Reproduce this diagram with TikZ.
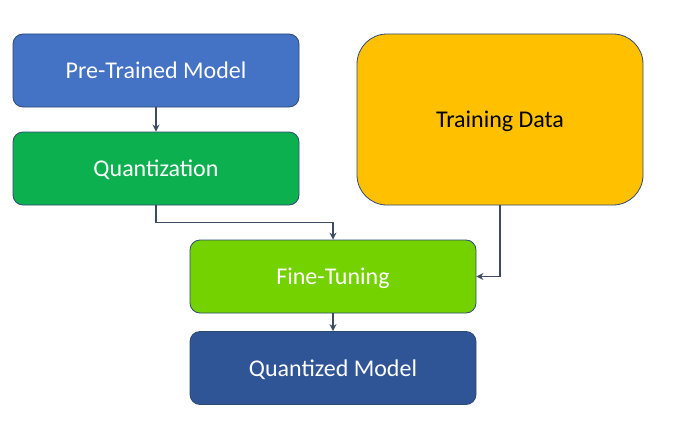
\documentclass[tikz,border=0pt]{standalone}
\usepackage{fontspec}
\setmainfont{Carlito}
\usetikzlibrary{arrows.meta}
\definecolor{ptblue}{HTML}{4472C4}
\definecolor{qgreen}{HTML}{0CB04F}
\definecolor{tdyellow}{HTML}{FFC000}
\definecolor{ftgreen}{HTML}{74D200}
\definecolor{qmblue}{HTML}{2F5597}
\definecolor{edge}{HTML}{2F4A75}
\definecolor{link}{HTML}{3E4C63}
\begin{document}
\begin{tikzpicture}[x=1pt,y=-1pt,
  box/.style={rectangle,rounded corners=10pt,draw=edge,line width=0.8pt,minimum width=286pt,minimum height=73pt,text depth=0pt,text=white,font=\fontsize{24}{28}\selectfont},
  link/.style={draw=link,line width=1.8pt,-{Stealth[length=7pt,width=7pt]}}]
\useasboundingbox (0,0) rectangle (700,425);

\node[box,fill=ptblue] (pt) at (156,70.5) {Pre-Trained Model};
\node[box,fill=qgreen] (q) at (156,168.5) {Quantization};
\node[box,fill=tdyellow,minimum height=171pt,rounded corners=30pt,text=black] (td) at (500,119.5) {Training Data};
\node[box,fill=ftgreen] (ft) at (333,276.5) {Fine-Tuning};
\node[box,fill=qmblue] (qm) at (333,368) {Quantized Model};
\draw[link] (pt)--(q);
\draw[link] (q.south) -- ++(0,17) -| (ft.north);
\draw[link] (td.south) |- (ft.east);
\draw[link] (ft)--(qm);
\end{tikzpicture}
\end{document}
